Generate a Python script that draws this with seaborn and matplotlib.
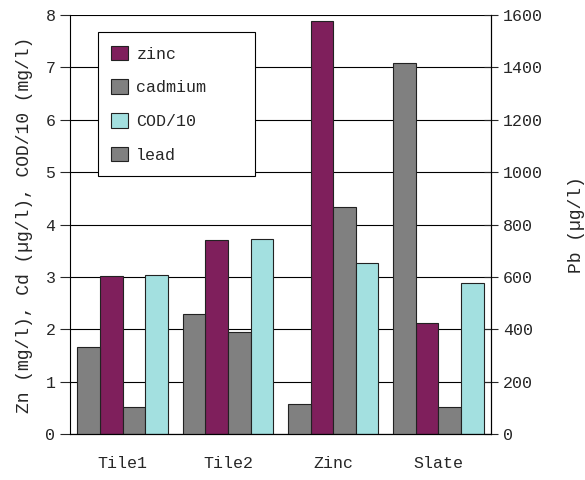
import pandas as pd
import seaborn as sns
import matplotlib.pyplot as plt
from matplotlib.patches import Patch

# Data
sites = ["Tile1", "Tile2", "Zinc", "Slate"]
zinc = [3.02, 3.70, 7.89, 2.12]        # mg/l
cadmium = [0.51, 1.95, 4.34, 0.51]     # ug/l
cod10 = [3.03, 3.72, 3.26, 2.89]       # mg/l /10
lead = [333, 460, 115, 1415]           # ug/l (right axis)

hue_order = ["lead", "zinc", "cadmium", "COD/10"]
palette = {"lead": "#808080", "zinc": "#7F1F5C",
           "cadmium": "#808080", "COD/10": "#A3E0E0"}

left = pd.DataFrame({
    "site": sites * 3,
    "value": zinc + cadmium + cod10,
    "metal": ["zinc"] * 4 + ["cadmium"] * 4 + ["COD/10"] * 4,
})
right = pd.DataFrame({"site": sites, "value": lead, "metal": ["lead"] * 4})

sns.set_style("white")
plt.rcParams["font.family"] = ["Liberation Mono", "DejaVu Sans"]
plt.rcParams["font.size"] = 12

fig = plt.figure(figsize=(5.85, 4.8), dpi=100)
ax = fig.add_axes([0.1197, 0.0958, 0.7197, 0.8729])
ax2 = ax.twinx()

sns.barplot(data=left, x="site", y="value", hue="metal", hue_order=hue_order,
            palette=palette, width=0.86, dodge=True, edgecolor="#222222",
            linewidth=0.8, saturation=1, legend=False, ax=ax)
sns.barplot(data=right, x="site", y="value", hue="metal", hue_order=hue_order,
            palette=palette, width=0.86, dodge=True, edgecolor="#222222",
            linewidth=0.8, saturation=1, legend=False, ax=ax2)

ax.set_xlim(-0.5, 3.5)
ax.set_ylim(0, 8)
ax2.set_ylim(0, 1600)
ax.set_yticks(range(0, 9))
ax2.set_yticks(range(0, 1601, 200))

ax.set_axisbelow(True)
ax.yaxis.grid(True, color="black", linewidth=0.8)

for a in (ax, ax2):
    for s in a.spines.values():
        s.set_color("black")
        s.set_linewidth(0.8)
    a.spines["top"].set_visible(False)
ax2.spines["left"].set_visible(False)

ax.set_xlabel("")
ax.set_ylabel("Zn (mg/l), Cd (µg/l), COD/10 (mg/l)", fontsize=13, labelpad=9)
ax2.set_ylabel("Pb (µg/l)", fontsize=13, labelpad=18)

ax.tick_params(axis="x", length=0, pad=16)
ax.set_xticks([-0.5, 0.5, 1.5, 2.5, 3.5], minor=True)
ax.tick_params(axis="x", which="minor", direction="inout", length=12, width=0.8)
ax.tick_params(axis="y", direction="out", length=7, width=0.8, left=True)
ax2.tick_params(axis="y", direction="inout", length=10, width=0.8, right=True)

handles = [Patch(facecolor=palette[m], edgecolor="#222222", linewidth=0.8)
           for m in ["zinc", "cadmium", "COD/10", "lead"]]
leg = ax2.legend(handles, ["zinc", "cadmium", "COD/10", "lead"],
                 loc="upper left", bbox_to_anchor=(0.0665, 0.625, 0.373, 0.334),
                 mode="expand", borderaxespad=0, fancybox=False, framealpha=1,
                 edgecolor="black", handlelength=1, handleheight=1,
                 labelspacing=1.05, borderpad=0.8, handletextpad=0.5,
                 fontsize=12)
leg.get_frame().set_linewidth(0.8)

fig.savefig("out.png", dpi=100)
